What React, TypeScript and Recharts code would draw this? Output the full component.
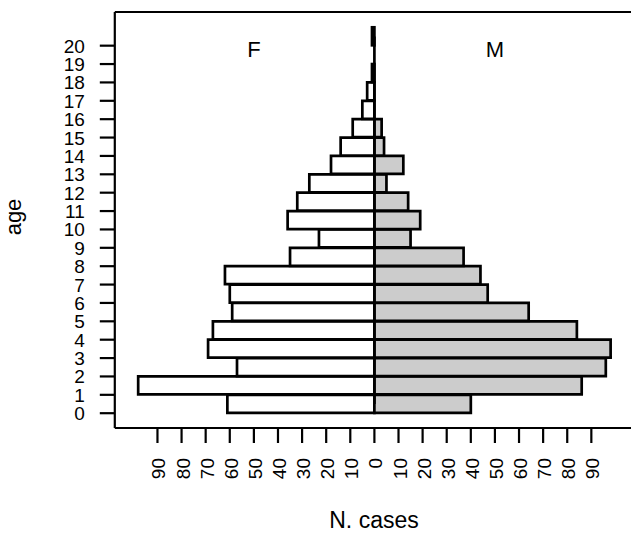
import { BarChart, Bar, XAxis, YAxis, ReferenceLine, ReferenceDot } from 'recharts';

// age classes (each bar spans age .. age+1)
const ages = [0, 1, 2, 3, 4, 5, 6, 7, 8, 9, 10, 11, 12, 13, 14, 15, 16, 17, 18, 19, 20];
const female = [61, 98, 57, 69, 67, 59, 60, 62, 35, 23, 36, 32, 27, 18, 14, 9, 5, 3, 1, 0, 1];
const male = [40, 86, 96, 98, 84, 64, 47, 44, 37, 15, 19, 14, 5, 12, 4, 3, 0, 0, 0, 0, 0];
const xTicks = [-90, -80, -70, -60, -50, -40, -30, -20, -10, 0, 10, 20, 30, 40, 50, 60, 70, 80, 90];

const X_DOMAIN: [number, number] = [-107.7, 107.7];

const data = ages.map((age, i) => ({ age: String(age), f: -female[i], m: male[i] }));

const FONT = "'Liberation Sans', Arial, Helvetica, sans-serif";

const PLOT_H = 416;
const PAD_TOP = 15.3;
const PAD_BOTTOM = 14.8;
const HALF_BAND = (PLOT_H - PAD_TOP - PAD_BOTTOM) / ages.length / 2;

// tick sits on the lower edge of each age band, like R's rect() pyramid
function AgeTick(props: any) {
  const { x, y, payload } = props;
  const ty = y + HALF_BAND;
  return (
    <g>
      <line x1={x + 15} y1={ty} x2={x + 30} y2={ty} stroke="#000" strokeWidth={2.2} />
      <text x={x} y={ty + 0.5} textAnchor="end" dominantBaseline="central" fontSize={19} fill="#000" fontFamily={FONT}>
        {payload.value}
      </text>
    </g>
  );
}

function RotatedTick(props: any) {
  const { x, y, payload } = props;
  return (
    <text
      x={x + 1.5}
      y={y}
      transform={`rotate(-90 ${x + 1.5} ${y})`}
      textAnchor="end"
      dominantBaseline="central"
      fontSize={19}
      fill="#000"
      fontFamily={FONT}
    >
      {Math.abs(payload.value)}
    </text>
  );
}

function XTitle() {
  return (
    <text x={374} y={528} textAnchor="middle" fontSize={23} fill="#000" fontFamily={FONT}>
      N. cases
    </text>
  );
}

function YTitle(props: any) {
  const { viewBox } = props;
  const cy = viewBox.y + viewBox.height / 2 - 3;
  return (
    <text x={21} y={cy} transform={`rotate(-90 21 ${cy})`} textAnchor="middle" fontSize={22} fill="#000" fontFamily={FONT}>
      age
    </text>
  );
}

export default function App() {
  return (
    <div style={{ position: 'absolute', left: 0, top: 0, width: 631, height: 543, overflow: 'hidden', background: '#fff', fontFamily: FONT }}>
      <BarChart
        width={634}
        height={543}
        data={data}
        layout="vertical"
        stackOffset="sign"
        barCategoryGap={0}
        margin={{ top: 11, right: 0, bottom: 45, left: 54.8 }}
      >
        <XAxis
          type="number"
          domain={X_DOMAIN}
          ticks={xTicks}
          interval={0}
          allowDataOverflow
          height={70}
          tickSize={15}
          tickMargin={15}
          tick={<RotatedTick />}
          axisLine={{ stroke: '#000', strokeWidth: 2.2 }}
          tickLine={{ stroke: '#000', strokeWidth: 2.2 }}
          label={<XTitle />}
        />
        <XAxis
          xAxisId="top"
          orientation="top"
          type="number"
          domain={X_DOMAIN}
          allowDataOverflow
          height={1}
          tick={false}
          tickLine={false}
          axisLine={{ stroke: '#000', strokeWidth: 2.2 }}
        />
        <YAxis
          type="category"
          dataKey="age"
          reversed
          interval={0}
          width={60}
          padding={{ top: PAD_TOP, bottom: PAD_BOTTOM }}
          tickSize={15}
          tickMargin={15}
          tickLine={false}
          tick={<AgeTick />}
          axisLine={{ stroke: '#000', strokeWidth: 2.2 }}
          label={<YTitle />}
        />
        <Bar
          dataKey="f"
          stackId="pyr"
          fill="#ffffff"
          stroke="#000"
          strokeWidth={2.7}
          isAnimationActive={false}
        />
        <Bar
          dataKey="m"
          stackId="pyr"
          fill="#cccccc"
          stroke="#000"
          strokeWidth={2.7}
          isAnimationActive={false}
        />
        <ReferenceLine
          segment={[{ x: 0, y: '0' }, { x: 0, y: '20' }]}
          stroke="#000"
          strokeWidth={2.7}
        />
        <ReferenceDot
          x={-50}
          y="19"
          r={0}
          fill="none"
          stroke="none"
          label={{ value: 'F', position: 'center', dy: -6, fontSize: 22, fill: '#000' }}
        />
        <ReferenceDot
          x={50}
          y="19"
          r={0}
          fill="none"
          stroke="none"
          label={{ value: 'M', position: 'center', dy: -6, fontSize: 22, fill: '#000' }}
        />
      </BarChart>
    </div>
  );
}
